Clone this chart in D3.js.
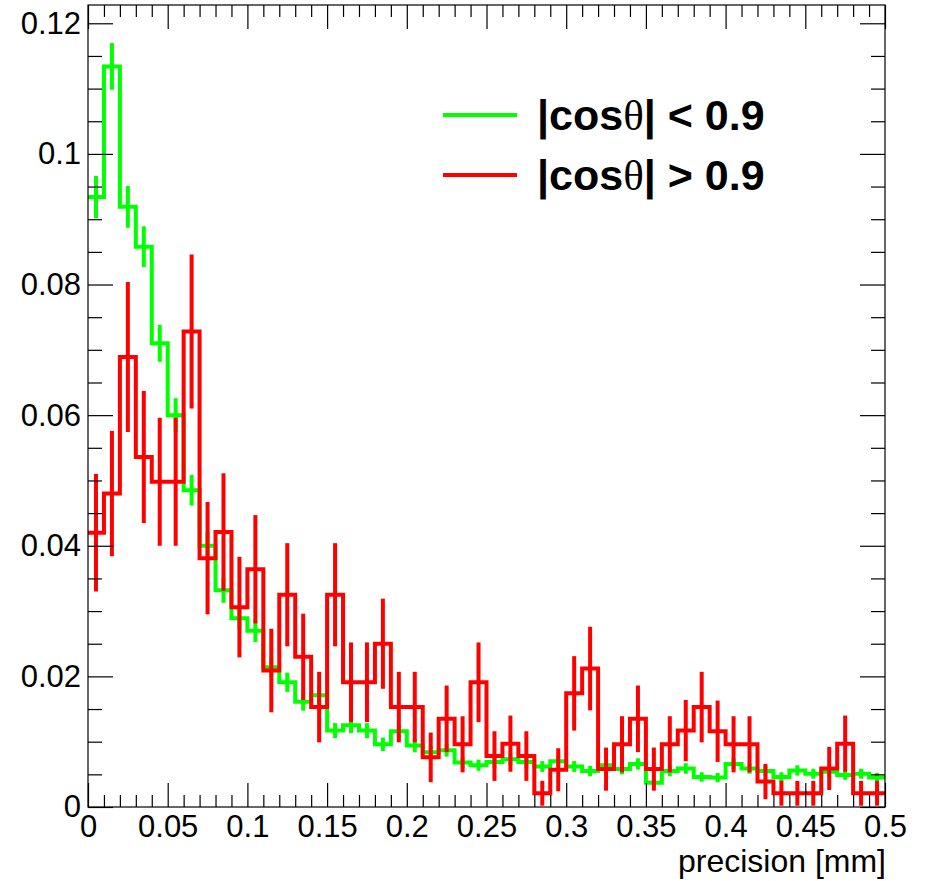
<!DOCTYPE html>
<html>
<head>
<meta charset="utf-8">
<script src="https://cdn.jsdelivr.net/npm/d3@7/dist/d3.min.js"></script>
<style>
    body { margin: 0; background: #fff; }
    text { font-family: "Liberation Sans", Arial, Helvetica, sans-serif; }
</style>
</head>
<body>
<div id="vis"></div>
<script>
/* DATA */
var binEdges = [0, 0.01, 0.02, 0.03, 0.04, 0.05, 0.06, 0.07, 0.08, 0.09,
    0.1, 0.11, 0.12, 0.13, 0.14, 0.15, 0.16, 0.17, 0.18, 0.19,
    0.2, 0.21, 0.22, 0.23, 0.24, 0.25, 0.26, 0.27, 0.28, 0.29,
    0.3, 0.31, 0.32, 0.33, 0.34, 0.35, 0.36, 0.37, 0.38, 0.39,
    0.4, 0.41, 0.42, 0.43, 0.44, 0.45, 0.46, 0.47, 0.48, 0.49, 0.5];

// |cos theta| < 0.9
var greenValues = [0.0934, 0.1134, 0.0919, 0.0858, 0.0710, 0.0600, 0.0485, 0.0400, 0.0332, 0.0289,
    0.0270, 0.0214, 0.0191, 0.0161, 0.0171, 0.0117, 0.0125, 0.0117, 0.0096, 0.0116,
    0.0094, 0.0084, 0.0087, 0.0068, 0.0064, 0.0069, 0.0073, 0.0069, 0.0062, 0.0070,
    0.0062, 0.0055, 0.0064, 0.0058, 0.0066, 0.0037, 0.0055, 0.0059, 0.0046, 0.0045,
    0.0066, 0.0059, 0.0055, 0.0046, 0.0056, 0.0051, 0.0054, 0.0049, 0.0051, 0.0045];
var greenErrors = [0.00324, 0.00357, 0.00321, 0.00311, 0.00283, 0.00260, 0.00234, 0.00212, 0.00193, 0.00180,
    0.00174, 0.00155, 0.00147, 0.00135, 0.00139, 0.00115, 0.00119, 0.00115, 0.00104, 0.00114,
    0.00103, 0.00097, 0.00099, 0.00087, 0.00085, 0.00088, 0.00091, 0.00088, 0.00083, 0.00089,
    0.00083, 0.00079, 0.00085, 0.00081, 0.00086, 0.00064, 0.00079, 0.00081, 0.00072, 0.00071,
    0.00086, 0.00081, 0.00079, 0.00072, 0.00079, 0.00076, 0.00078, 0.00074, 0.00076, 0.00071];

// |cos theta| > 0.9
var redValues = [0.0420, 0.0480, 0.0689, 0.0536, 0.0498, 0.0498, 0.0728, 0.0381, 0.0421, 0.0306,
    0.0364, 0.0209, 0.0325, 0.0230, 0.0153, 0.0325, 0.0191, 0.0191, 0.0250, 0.0153,
    0.0153, 0.0076, 0.0135, 0.0096, 0.0191, 0.0078, 0.0097, 0.0078, 0.0021, 0.0057,
    0.0174, 0.0212, 0.0058, 0.0096, 0.0135, 0.0058, 0.0096, 0.0117, 0.0153, 0.0116,
    0.0096, 0.0096, 0.0039, 0.0021, 0.0021, 0.0021, 0.0059, 0.0097, 0.0021, 0.0021];
var redErrors = [0.0090, 0.0096, 0.0115, 0.0101, 0.0098, 0.0098, 0.0118, 0.0086, 0.0090, 0.0077,
    0.0083, 0.0064, 0.0079, 0.0066, 0.0054, 0.0079, 0.0061, 0.0061, 0.0069, 0.0054,
    0.0054, 0.0038, 0.0051, 0.0043, 0.0061, 0.0038, 0.0043, 0.0038, 0.0019, 0.0033,
    0.0057, 0.0064, 0.0033, 0.0043, 0.0051, 0.0033, 0.0043, 0.0047, 0.0054, 0.0047,
    0.0043, 0.0043, 0.0027, 0.0019, 0.0019, 0.0019, 0.0033, 0.0043, 0.0019, 0.0019];

var xTicks = [0, 0.05, 0.1, 0.15, 0.2, 0.25, 0.3, 0.35, 0.4, 0.45, 0.5];
var xTickLabels = ["0", "0.05", "0.1", "0.15", "0.2", "0.25", "0.3", "0.35", "0.4", "0.45", "0.5"];
var yTicks = [0, 0.02, 0.04, 0.06, 0.08, 0.1, 0.12];
var yTickLabels = ["0", "0.02", "0.04", "0.06", "0.08", "0.1", "0.12"];

var seriesNames = ["|cos", "θ", "| < 0.9", "| > 0.9"];

/* LAYOUT */
var w = 925, h = 881;
var plotLeft = 88, plotRight = 885, plotTop = 5, plotBottom = 807;

var xScale = d3.scaleLinear().domain([0, 0.5]).range([plotLeft, plotRight]);
var yScale = d3.scaleLinear().domain([0, 0.1228]).range([plotBottom, plotTop]);

var svg = d3.select("#vis").append("svg")
    .attr("width", w)
    .attr("height", h);

svg.append("clipPath").attr("id", "plotclip")
    .append("rect")
    .attr("x", plotLeft).attr("y", plotTop)
    .attr("width", plotRight - plotLeft).attr("height", plotBottom - plotTop);

/* HISTOGRAMS */
function stepPoints(vals) {
    var pts = [];
    vals.forEach(function (v, i) {
        pts.push([binEdges[i], v]);
        pts.push([binEdges[i + 1], v]);
    });
    return pts;
}

var line = d3.line()
    .x(d => xScale(d[0]))
    .y(d => yScale(d[1]));

function drawHist(vals, errs, color) {
    var g = svg.append("g").attr("clip-path", "url(#plotclip)");
    g.append("path")
        .attr("d", line(stepPoints(vals)))
        .attr("fill", "none")
        .attr("stroke", color)
        .attr("stroke-width", 4);
    g.selectAll("line.err")
        .data(vals)
        .enter()
        .append("line")
        .attr("class", "err")
        .attr("x1", (d, i) => xScale((binEdges[i] + binEdges[i + 1]) / 2))
        .attr("x2", (d, i) => xScale((binEdges[i] + binEdges[i + 1]) / 2))
        .attr("y1", (d, i) => yScale(Math.max(0, d - errs[i])))
        .attr("y2", (d, i) => yScale(d + errs[i]))
        .attr("stroke", color)
        .attr("stroke-width", 4);
}

drawHist(greenValues, greenErrors, "#00ff00");
drawHist(redValues, redErrors, "#ff0000");

/* AXES */
var minorX = d3.range(0, 0.5001, 0.01).filter(v => Math.abs(v / 0.05 - Math.round(v / 0.05)) > 1e-6);
var minorY = d3.range(0, 0.1226, 0.005).filter(v => Math.abs(v / 0.02 - Math.round(v / 0.02)) > 1e-6);

function styleAxis(g) {
    g.selectAll(".domain").remove();
    g.selectAll("line").attr("stroke", "#000").attr("stroke-width", 1.2);
    g.selectAll("text")
        .attr("fill", "#000")
        .style("font-family", "'Liberation Sans', Arial, sans-serif")
        .style("font-size", "31px");
}

svg.append("g")
    .attr("transform", "translate(0," + plotBottom + ")")
    .call(d3.axisBottom(xScale).tickValues(xTicks).tickFormat((d, i) => xTickLabels[i])
        .tickSize(-24).tickSizeOuter(0).tickPadding(8))
    .call(styleAxis);
svg.append("g")
    .attr("transform", "translate(0," + plotBottom + ")")
    .call(d3.axisBottom(xScale).tickValues(minorX).tickFormat("").tickSize(-12).tickSizeOuter(0))
    .call(styleAxis);
svg.append("g")
    .attr("transform", "translate(0," + plotTop + ")")
    .call(d3.axisTop(xScale).tickValues(xTicks).tickFormat("").tickSize(-24).tickSizeOuter(0))
    .call(styleAxis);
svg.append("g")
    .attr("transform", "translate(0," + plotTop + ")")
    .call(d3.axisTop(xScale).tickValues(minorX).tickFormat("").tickSize(-12).tickSizeOuter(0))
    .call(styleAxis);

svg.append("g")
    .attr("transform", "translate(" + plotLeft + ",0)")
    .call(d3.axisLeft(yScale).tickValues(yTicks).tickFormat((d, i) => yTickLabels[i])
        .tickSize(-25).tickSizeOuter(0).tickPadding(7))
    .call(styleAxis);
svg.append("g")
    .attr("transform", "translate(" + plotLeft + ",0)")
    .call(d3.axisLeft(yScale).tickValues(minorY).tickFormat("").tickSize(-14).tickSizeOuter(0))
    .call(styleAxis);
svg.append("g")
    .attr("transform", "translate(" + plotRight + ",0)")
    .call(d3.axisRight(yScale).tickValues(yTicks).tickFormat("").tickSize(-25).tickSizeOuter(0))
    .call(styleAxis);
svg.append("g")
    .attr("transform", "translate(" + plotRight + ",0)")
    .call(d3.axisRight(yScale).tickValues(minorY).tickFormat("").tickSize(-14).tickSizeOuter(0))
    .call(styleAxis);

// frame
svg.append("rect")
    .attr("x", plotLeft).attr("y", plotTop)
    .attr("width", plotRight - plotLeft).attr("height", plotBottom - plotTop)
    .attr("fill", "none")
    .attr("stroke", "#000")
    .attr("stroke-width", 1.2);

// axis title
svg.append("text")
    .attr("x", plotRight + 1)
    .attr("y", 872)
    .attr("text-anchor", "end")
    .style("font-size", "32px")
    .attr("fill", "#000")
    .text("precision [mm]");

/* LEGEND */
var legend = [
    { color: "#00ff00", rest: seriesNames[2], y: 115 },
    { color: "#ff0000", rest: seriesNames[3], y: 175 }
];
legend.forEach(function (d) {
    svg.append("line")
        .attr("x1", 443).attr("x2", 517)
        .attr("y1", d.y).attr("y2", d.y)
        .attr("stroke", d.color)
        .attr("stroke-width", 4);
    var t = svg.append("text")
        .attr("x", 537)
        .attr("y", d.y + 15)
        .attr("fill", "#000")
        .style("font-size", "43px")
        .style("font-weight", "bold");
    t.append("tspan").text(seriesNames[0]);
    t.append("tspan")
        .style("font-family", "'Liberation Serif', 'DejaVu Serif', serif")
        .style("font-weight", "normal")
        .text(seriesNames[1]);
    t.append("tspan").text(d.rest);
});
</script>
</body>
</html>
